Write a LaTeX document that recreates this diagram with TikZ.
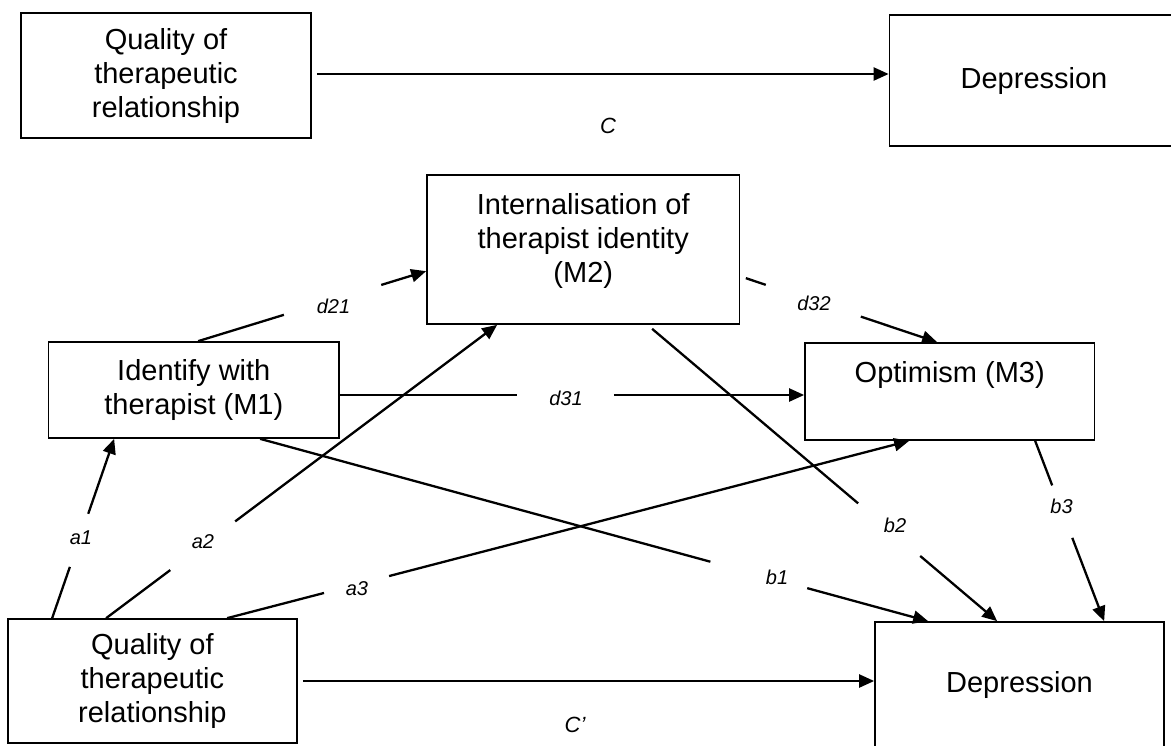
\documentclass[tikz,border=0pt]{standalone}
\usepackage{fontspec}
\setmainfont{Liberation Sans}
\usetikzlibrary{arrows.meta,calc}
\tikzset{
  box/.style={draw, line width=1.7pt, rectangle, inner sep=0pt, align=center,
    font=\fontsize{29}{34}\selectfont},
  txt/.style={align=center, inner sep=0pt, font=\fontsize{29}{34}\selectfont},
  conn/.style={line width=2.3pt},
  arr/.style={conn, -{Triangle[length=15pt,width=13pt]}},
  lbl/.style={font=\fontsize{20}{24}\selectfont\itshape, inner sep=0pt},
  clbl/.style={font=\fontsize{22}{26}\selectfont\itshape, inner sep=0pt},
}
\newcommand\gapline[4]{%
  \draw[conn] (#1) -- ($(#1)!#3!(#2)$);
  \draw[arr] ($(#1)!#4!(#2)$) -- (#2);}
\begin{document}
\begin{tikzpicture}[x=1pt,y=-1pt]
\useasboundingbox (0,0) rectangle (1171,745);
\clip (0,0) rectangle (1171,745);

% top model
\node[box, minimum width=290pt, minimum height=125pt] (q1) at (166,75.5)
  {Quality of\\therapeutic\\relationship};
\node[box, minimum width=289pt, minimum height=131pt] (dep1) at (1034,80.5) {Depression};
\coordinate (cs) at ([xshift=5pt,yshift=1.5pt]q1.east);
\draw[arr] (cs) -- (cs -| dep1.west);
\node[clbl] (lc) at (608,126) {C};

% mediation model
\node[box, minimum width=312.5pt, minimum height=149pt] (m2) at (583.25,249.5) {};
\node[txt] (m2t) at ([yshift=9pt]m2.center) {Internalisation of\\therapist identity\\(M2)};
\node[box, minimum width=290.4pt, minimum height=96pt] (m1) at (193.8,390)
  {Identify with\\therapist (M1)};
\node[box, minimum width=289.5pt, minimum height=97pt] (m3) at (949.75,391.5) {};
\node[txt] (m3t) at ([yshift=16.5pt]m3.center) {Optimism (M3)};
\node[box, minimum width=289.3pt, minimum height=124pt] (q2) at (152.35,681)
  {Quality of\\therapeutic\\relationship};
\node[box, minimum width=289pt, minimum height=126pt] (dep2) at (1019.5,685) {Depression};

% end points on the boxes
\coordinate (a1s) at ([xshift=45.3pt]q2.north west);
\coordinate (a1t) at ([xshift=66.4pt]m1.south west);
\coordinate (a2s) at ([xshift=99.3pt]q2.north west);
\coordinate (a2t) at ([xshift=71pt]m2.south west);
\coordinate (a3s) at ([xshift=220.3pt]q2.north west);
\coordinate (a3t) at ([xshift=105pt]m3.south west);
\coordinate (d21s) at ([xshift=150.4pt]m1.north west);
\coordinate (d21t) at ([yshift=-97pt]m2.north west);
\coordinate (d31s) at ([yshift=-5pt]m1.east);
\coordinate (d32s) at ([xshift=5.5pt,yshift=-104pt]m2.north east);
\coordinate (d32t) at ([xshift=133pt]m3.north west);
\coordinate (b1s) at ([xshift=212.4pt]m1.south west);
\coordinate (b1t) at ([xshift=54pt]dep2.north west);
\coordinate (b2s) at ([xshift=226pt,yshift=-4pt]m2.south west);
\coordinate (b2t) at ([xshift=123pt]dep2.north west);
\coordinate (b3s) at ([xshift=231pt]m3.south west);
\coordinate (b3t) at ([xshift=230pt]dep2.north west);

\gapline{a1s}{a1t}{0.286}{0.582}
\gapline{a2s}{a2t}{0.164}{0.330}
\gapline{a3s}{a3t}{0.142}{0.2375}
\gapline{d21s}{d21t}{0.376}{0.803}
\gapline{d31s}{d31s -| m3.west}{0.382}{0.590}
\gapline{d32s}{d32t}{0.104}{0.601}
\gapline{b1s}{b1t}{0.674}{0.819}
\gapline{b2s}{b2t}{0.597}{0.777}
\gapline{b3s}{b3t}{0.247}{0.538}
\draw[arr] ([xshift=5pt]q2.east) -- (q2.east -| dep2.west);

% labels
\node[lbl] (la1) at (81,537.5) {a1};
\node[lbl] (la2) at (203,542) {a2};
\node[lbl] (la3) at (357,589) {a3};
\node[lbl] (ld21) at (333.5,306) {d21};
\node[lbl] (ld31) at (566,398) {d31};
\node[lbl] (ld32) at (814,303) {d32};
\node[lbl] (lb1) at (777,577) {b1};
\node[lbl] (lb2) at (895,525) {b2};
\node[lbl] (lb3) at (1061.5,506) {b3};
\node[clbl] (lcp) at (575,725) {C’};
\end{tikzpicture}
\end{document}
